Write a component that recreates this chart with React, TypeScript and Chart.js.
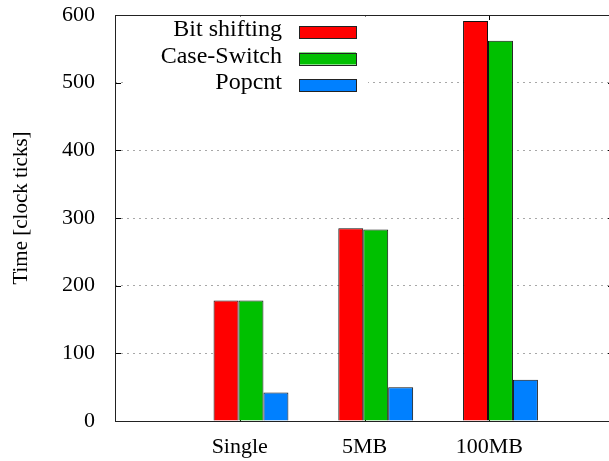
import React, { useEffect, useRef } from "react";
import { Chart, registerables } from "chart.js";
Chart.register(...registerables);

const categories = ["Single", "5MB", "100MB"];
const seriesNames = ["Bit shifting", "Case-Switch", "Popcnt"];
const bitShifting = [178, 285, 591];
const caseSwitch = [178, 283, 562];
const popcnt = [42, 50, 61];
const yTicks = [0, 100, 200, 300, 400, 500, 600];
const seriesColors = ["#ff0000", "#00c000", "#0080ff"];
const yTitle = "Time [clock ticks]";

const FONT = "'Liberation Serif', 'Times New Roman', serif";

export default function App() {
  const ref = useRef<HTMLCanvasElement>(null);
  useEffect(() => {
    document.body.style.margin = "0";
    document.body.style.overflow = "hidden";
    const series = [bitShifting, caseSwitch, popcnt];
    const catTicks = (s: any) => {
      s.ticks = categories.map((_, i) => ({ value: i }));
    };

    const gnuPlugin = {
      id: "gnuframe",
      beforeDatasetsDraw(chart: any) {
        const { ctx, chartArea: a, scales } = chart;
        const y = scales.y;
        const x = scales.x;
        ctx.save();
        ctx.strokeStyle = "#000";
        ctx.lineWidth = 1;
        ctx.beginPath();
        yTicks.forEach((v) => {
          const py = Math.round(y.getPixelForValue(v)) + 0.5;
          ctx.moveTo(a.left, py);
          ctx.lineTo(a.left + 6, py);
          ctx.moveTo(a.right, py);
          ctx.lineTo(a.right - 6, py);
        });
        categories.forEach((_, i) => {
          const px = Math.round(x.getPixelForValue(i)) + 0.5;
          ctx.moveTo(px, a.top);
          ctx.lineTo(px, a.top + 5);
          ctx.moveTo(px, a.bottom);
          ctx.lineTo(px, a.bottom - 5);
        });
        ctx.stroke();
        ctx.restore();
      },
      afterDraw(chart: any) {
        const { ctx, chartArea: a } = chart;
        ctx.save();
        // frame
        ctx.strokeStyle = "#222";
        ctx.lineWidth = 1;
        ctx.strokeRect(
          Math.round(a.left) + 0.5,
          Math.round(a.top) + 0.5,
          Math.round(a.right - a.left),
          Math.round(a.bottom - a.top)
        );
        // legend
        ctx.fillStyle = "#fff";
        ctx.fillRect(a.left + 12, a.top + 1.5, 241, 84);
        ctx.font = `24px ${FONT}`;
        ctx.textAlign = "right";
        ctx.textBaseline = "alphabetic";
        seriesNames.forEach((name, k) => {
          const base = a.top + 21 + k * 26.5;
          ctx.fillStyle = "#000";
          ctx.fillText(name, a.left + 167, base);
          ctx.fillStyle = seriesColors[k];
          ctx.fillRect(a.left + 184, base - 10, 57, 12);
          ctx.strokeStyle = "#222";
          ctx.strokeRect(Math.round(a.left + 184) + 0.5, Math.round(base - 10) + 0.5, 57, 12);
        });
        // y title
        ctx.translate(21, 208);
        ctx.rotate(-Math.PI / 2);
        ctx.textAlign = "center";
        ctx.textBaseline = "middle";
        ctx.fillStyle = "#000";
        ctx.font = `21px ${FONT}`;
        ctx.fillText(yTitle, 0, 0);
        ctx.restore();
      },
    };

    const chart = new Chart(ref.current as HTMLCanvasElement, {
      type: "bar",
      data: {
        datasets: series.map((vals, k) => ({
          label: seriesNames[k],
          xAxisID: "xb",
          yAxisID: "y",
          data: categories.map((_, i) => ({ x: i, y: vals[i] })),
          backgroundColor: seriesColors[k],
          borderColor: "#111",
          borderWidth: 1,
          categoryPercentage: 0.6,
          barPercentage: 1.0,
        })),
      },
      options: {
        responsive: false,
        animation: false,
        layout: { padding: { top: 15, right: 0, left: 0, bottom: 0 } },
        plugins: { legend: { display: false }, tooltip: { enabled: false } },
        scales: {
          x: {
            type: "linear",
            min: -1,
            max: 3,
            offset: false,
            position: "bottom",
            grid: { display: false, drawTicks: false, offset: false },
            border: { display: false },
            afterBuildTicks: catTicks,
            afterFit: (s: any) => {
              s.height = 40;
              s.paddingLeft = 0;
              s.paddingRight = 0;
            },
            ticks: {
              callback: (v: any) => categories[v] ?? "",
              font: { family: FONT, size: 22 },
              color: "#000",
              padding: 13,
              autoSkip: false,
              maxRotation: 0,
            },
          },
          xb: {
            type: "linear",
            min: -1.09,
            max: 2.91,
            display: false,
            offset: false,
            grid: { offset: false },
            afterBuildTicks: catTicks,
          },
          y: {
            min: 0,
            max: 600,
            afterBuildTicks: (s: any) => {
              s.ticks = yTicks.map((v) => ({ value: v }));
            },
            ticks: { font: { family: FONT, size: 22 }, color: "#000", padding: 20 },
            grid: { color: "#a8a8a8", drawTicks: false },
            border: { display: false, dash: [2, 4] },
            afterFit: (s: any) => {
              s.width = 115;
              s.paddingTop = 0;
              s.paddingBottom = 0;
            },
          },
        },
      },
      plugins: [gnuPlugin],
    } as any);
    return () => chart.destroy();
  }, []);

  return (
    <div style={{ width: 609, height: 461, overflow: "hidden", background: "#fff" }}>
      <canvas ref={ref} width={614} height={461} style={{ display: "block", width: 614, height: 461 }} />
    </div>
  );
}
